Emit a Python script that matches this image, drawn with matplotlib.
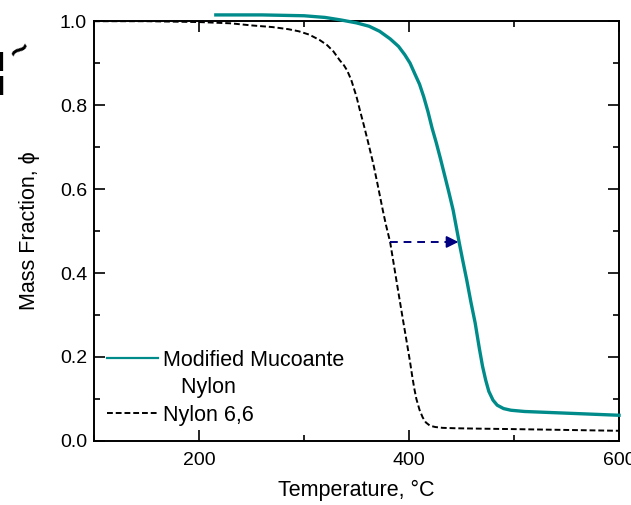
import matplotlib
matplotlib.use("Agg")
import matplotlib.pyplot as plt
from matplotlib.lines import Line2D
from matplotlib.ticker import MultipleLocator

plt.rcParams['font.family'] = ['Liberation Sans', 'DejaVu Sans']

# Nylon 6,6 (dashed black)
nylon_T = [100, 150, 200, 230, 250, 270, 285, 295, 305, 315, 322, 328, 334, 338,
           341, 345, 350, 353, 357, 361, 366, 370, 375, 378, 382, 386, 390, 394,
           398, 401, 403, 405, 407, 410, 413, 416, 420, 425, 432, 445, 470, 500,
           550, 600]
nylon_m = [1.0, 1.0, 0.998, 0.995, 0.99, 0.986, 0.981, 0.976, 0.968, 0.955,
           0.943, 0.928, 0.907, 0.895, 0.883, 0.86, 0.82, 0.79, 0.752, 0.712,
           0.66, 0.612, 0.55, 0.515, 0.474, 0.413, 0.352, 0.292, 0.233, 0.188,
           0.155, 0.125, 0.1, 0.074, 0.056, 0.044, 0.036, 0.033, 0.031, 0.03,
           0.029, 0.028, 0.026, 0.024]

# Modified mucoante nylon (teal)
mod_T = [216, 260, 300, 320, 335, 350, 362, 372, 382, 390, 396, 401, 406, 410,
         414, 418, 422, 426, 430, 434, 438, 442, 445, 448, 451, 455, 459, 463,
         467, 470, 473, 476, 480, 484, 490, 497, 510, 530, 560, 600]
mod_m = [1.015, 1.015, 1.013, 1.009, 1.003, 0.996, 0.988, 0.976, 0.958, 0.94,
         0.92, 0.9, 0.872, 0.85, 0.82, 0.785, 0.745, 0.71, 0.672, 0.632, 0.592,
         0.55, 0.51, 0.47, 0.432, 0.383, 0.33, 0.281, 0.22, 0.178, 0.145, 0.118,
         0.097, 0.085, 0.077, 0.073, 0.07, 0.068, 0.065, 0.061]

# shift arrow between the two curves
arrow_y = 0.474
arrow_x0, arrow_x1 = 382, 447

teal = '#008B8B'
navy = '#000080'

fig = plt.figure(figsize=(6.31, 5.05), dpi=100)
ax = fig.add_axes([0.149, 0.127, 0.832, 0.831])

ax.plot(mod_T, mod_m, color=teal, linewidth=2.4, clip_on=False, zorder=3)
ax.plot(nylon_T, nylon_m, color='black', linestyle=(0, (3, 1.5)), linewidth=1.4, zorder=2)

ax.plot([arrow_x0, arrow_x1 - 8], [arrow_y, arrow_y], color=navy,
        linestyle=(0, (4, 3)), linewidth=1.4, zorder=4)
ax.annotate('', xy=(arrow_x1, arrow_y), xytext=(arrow_x1 - 10, arrow_y),
            arrowprops=dict(arrowstyle='-|>', color=navy, lw=1.2,
                            mutation_scale=18, shrinkA=0, shrinkB=0), zorder=4)

ax.set_xlim(100, 600)
ax.set_ylim(0.0, 1.0)
ax.xaxis.set_major_locator(MultipleLocator(200))
ax.xaxis.set_minor_locator(MultipleLocator(100))
ax.yaxis.set_major_locator(MultipleLocator(0.2))
ax.yaxis.set_minor_locator(MultipleLocator(0.1))
ax.tick_params(which='both', direction='in', top=True, right=True,
               labelsize=14, width=1.2)
ax.tick_params(which='major', length=8)
ax.tick_params(which='minor', length=4)
ax.tick_params(axis='x', pad=8)
ax.tick_params(axis='y', pad=5)
for s in ax.spines.values():
    s.set_linewidth(1.4)

ax.set_xlabel('Temperature, \u00b0C', fontsize=15.5, labelpad=8)
ax.set_ylabel('Mass Fraction, \u03d5', fontsize=15.5, labelpad=14)

handles = [Line2D([], [], color=teal, linewidth=1.6),
           Line2D([], [], color='none'),
           Line2D([], [], color='black', linestyle=(0, (3, 1.5)), linewidth=1.4)]
labels = ['Modified Mucoante', '   Nylon', 'Nylon 6,6']
ax.legend(handles, labels, loc='lower left', bbox_to_anchor=(0.008, 0.016),
          borderaxespad=0, frameon=False, fontsize=15.5, handlelength=2.37,
          handletextpad=0.23, labelspacing=0.3)

# clipped fragment of a structure drawing at top left
fig.text(0.007, 0.873, 'N', fontsize=20, fontweight='bold', ha='right', va='center')
fig.text(0.007, 0.825, 'H', fontsize=20, fontweight='bold', ha='right', va='center')
fig.text(0.032, 0.9, '~', fontsize=24, fontweight='bold', rotation=35,
         ha='center', va='center')

fig.savefig('out.png', dpi=100)
